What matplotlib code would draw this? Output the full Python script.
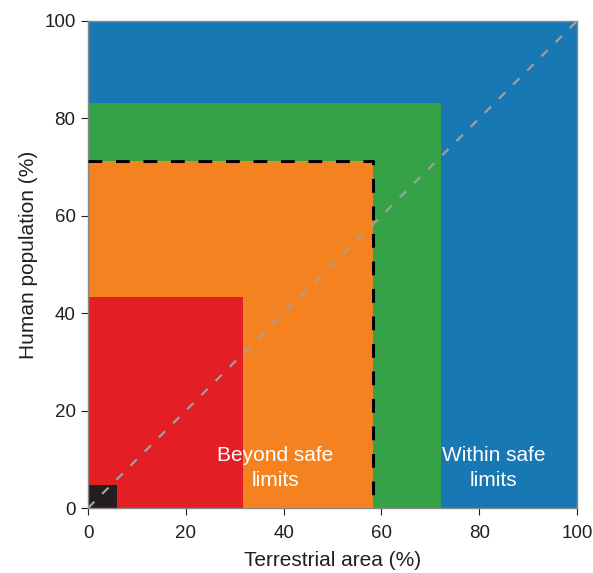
import matplotlib.pyplot as plt
from matplotlib.patches import Rectangle

plt.rcParams['font.family'] = ['Liberation Sans', 'DejaVu Sans']

# nested boundary boxes: (name, terrestrial area %, human population %, colour)
box_names = ["safe", "green", "orange", "red", "black"]
box_area = [100, 72.2, 58.2, 31.7, 6.0]
box_pop = [100, 83.2, 71.3, 43.3, 4.7]
box_colors = ["#1878b4", "#35a248", "#f58220", "#e31e24", "#231f20"]

x_ticks = [0, 20, 40, 60, 80, 100]
y_ticks = [0, 20, 40, 60, 80, 100]

txt = "#231f20"

fig = plt.figure(figsize=(5.93, 5.73), dpi=100)
ax = fig.add_axes([0.1484, 0.1134, 0.8246, 0.85])

for w, h, c in zip(box_area, box_pop, box_colors):
    ax.add_patch(Rectangle((0, 0), w, h, facecolor=c, edgecolor="none", zorder=1))

# dashed outline on the orange box
ow, oh = box_area[2], box_pop[2]
ax.plot([0, ow, ow], [oh, oh, 0], color="black", lw=2.2, ls=(0, (4.5, 4.5)), zorder=3)

# 1:1 line
ax.plot([0, 100], [0, 100], color="#a0a0a0", lw=1.6, ls=(0, (4, 5)), zorder=4)

ax.text(38.3, 8.3, "Beyond safe\nlimits", color="white", fontsize=15,
        ha="center", va="center", linespacing=1.4, zorder=5)
ax.text(83, 8.3, "Within safe\nlimits", color="white", fontsize=15,
        ha="center", va="center", linespacing=1.4, zorder=5)

ax.set_xlim(0, 100)
ax.set_ylim(0, 100)
ax.set_xticks(x_ticks)
ax.set_yticks(y_ticks)
ax.tick_params(labelsize=13.5, direction="out", length=5, color=txt,
               labelcolor=txt)
ax.tick_params(axis="x", pad=7)
ax.tick_params(axis="y", pad=4)
for s in ax.spines.values():
    s.set_color("#888888")
    s.set_linewidth(1)
ax.set_xlabel("Terrestrial area (%)", fontsize=15, labelpad=7, color=txt)
ax.set_ylabel("Human population (%)", fontsize=15, color=txt)
ax.yaxis.set_label_coords(-0.103, 0.52)

fig.savefig("out.png", dpi=100)
